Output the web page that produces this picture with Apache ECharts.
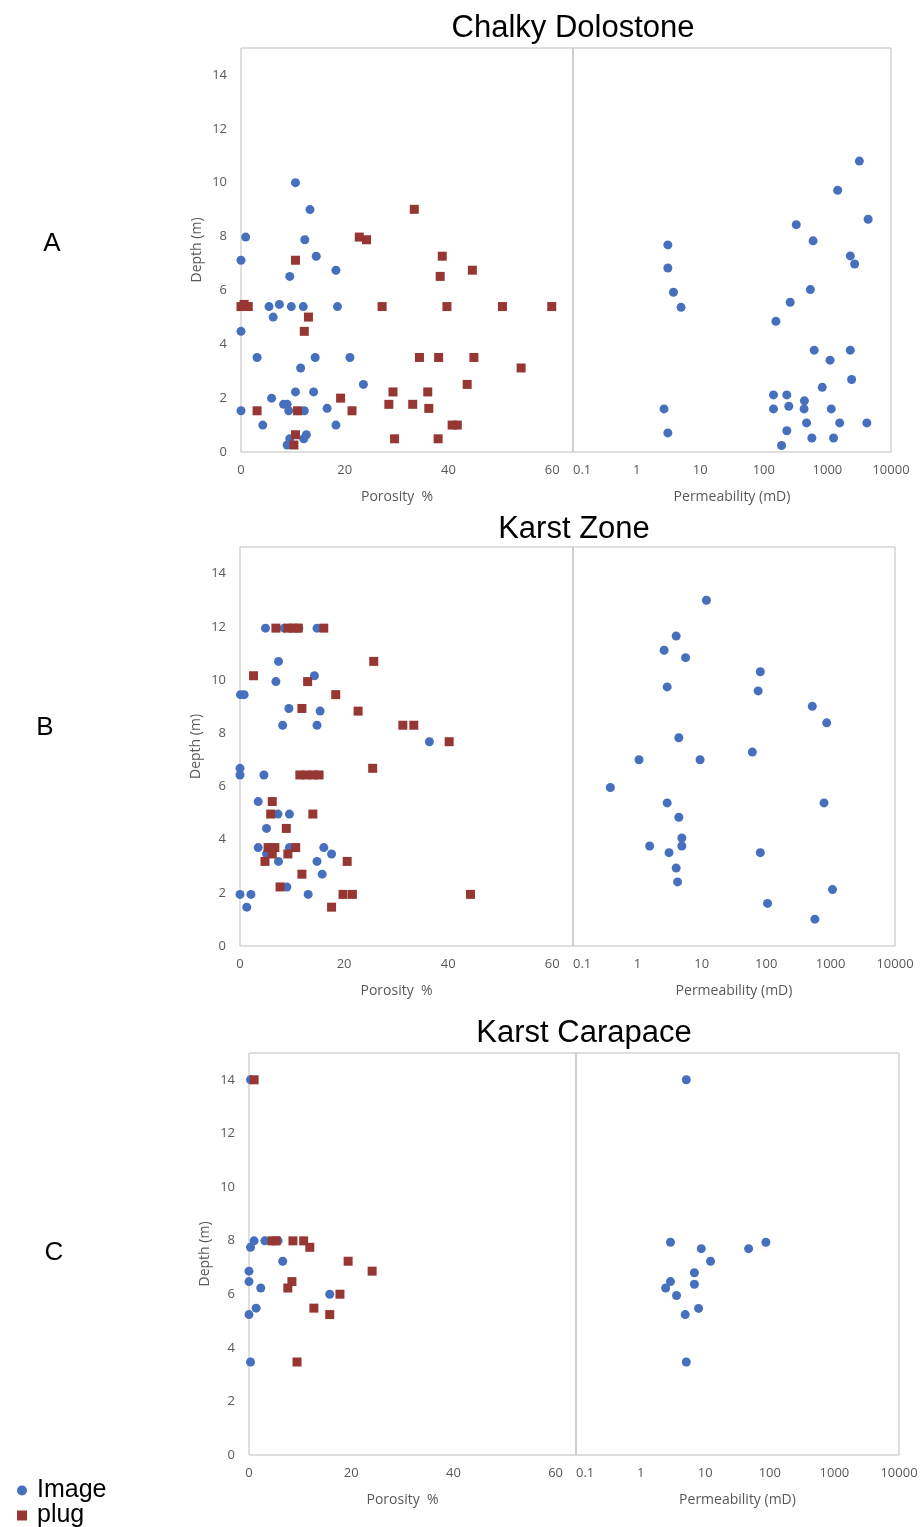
<!DOCTYPE html>
<html><head><meta charset="utf-8">
<script src="https://cdn.jsdelivr.net/npm/echarts@6/dist/echarts.min.js"></script>
<style>html,body{margin:0;padding:0;background:#fff}#c{width:921px;height:1527px}</style>
</head><body><div id="c"></div>
<script>
// ---------- data ----------
const panelTitles = ['Chalky Dolostone', 'Karst Zone', 'Karst Carapace'];
const panelLetters = ['A', 'B', 'C'];
const seriesNames = ['Image', 'plug'];
const porosityTicks = [0, 20, 40, 60];
const depthTicks = [0, 2, 4, 6, 8, 10, 12, 14];
const permTicks = [0.1, 1, 10, 100, 1000, 10000];

// [porosity %, depth m]
const A_imagePorosity = [[10.5,10.0],[13.3,9.0],[0.9,7.98],[12.3,7.88],[0,7.12],[14.5,7.27],[18.3,6.75],[9.4,6.52],[5.4,5.4],[7.4,5.48],[9.7,5.4],[12.0,5.4],[18.6,5.4],[6.2,5.01],[0,4.48],[3.1,3.51],[11.5,3.12],[14.3,3.51],[21.0,3.51],[23.6,2.51],[5.9,2.0],[10.5,2.23],[14.0,2.23],[8.2,1.77],[8.9,1.77],[0,1.53],[9.2,1.53],[12.2,1.53],[16.6,1.62],[4.2,1.0],[18.3,1.0],[8.9,0.26],[9.4,0.49],[12.1,0.49],[12.6,0.64]];
const A_plugPorosity = [[33.4,9.01],[22.8,7.98],[24.2,7.88],[10.5,7.12],[38.8,7.27],[38.4,6.52],[44.6,6.75],[0,5.4],[0.6,5.48],[1.4,5.4],[27.2,5.4],[39.7,5.4],[50.4,5.4],[59.9,5.4],[13.0,5.01],[12.2,4.48],[34.4,3.51],[38.1,3.51],[44.9,3.51],[54.0,3.12],[43.6,2.51],[3.1,1.53],[10.9,1.53],[19.2,2.0],[21.4,1.53],[29.3,2.23],[36.0,2.23],[28.5,1.77],[33.1,1.77],[36.2,1.62],[40.7,1.0],[41.7,1.0],[10.5,0.64],[10.2,0.26],[29.6,0.49],[38.0,0.49]];
// [permeability mD, depth m]
const A_imagePermeability = [[3180,10.8],[1450,9.72],[4370,8.64],[324,8.44],[596,7.84],[3.1,7.69],[2290,7.28],[2680,6.98],[3.1,6.83],[3.8,5.93],[540,6.03],[5.0,5.37],[260,5.56],[155,4.85],[620,3.78],[2290,3.78],[1100,3.41],[2400,2.69],[830,2.4],[142,2.12],[230,2.12],[435,1.9],[2.7,1.6],[142,1.6],[247,1.7],[430,1.6],[1150,1.6],[470,1.08],[1560,1.08],[4170,1.08],[3.1,0.71],[230,0.79],[570,0.52],[1250,0.52],[190,0.24]];

const B_imagePorosity = [[4.9,11.95],[8.5,11.95],[11.3,11.95],[14.8,11.95],[7.4,10.7],[14.3,10.16],[6.9,9.94],[0.1,9.45],[0.8,9.45],[9.4,8.93],[15.4,8.83],[8.2,8.3],[14.8,8.3],[36.4,7.68],[0,6.68],[0,6.43],[4.6,6.43],[3.5,5.43],[7.3,4.96],[9.5,4.96],[5.1,4.42],[3.5,3.7],[5.1,3.47],[9.5,3.7],[16.1,3.7],[17.6,3.46],[7.4,3.18],[14.8,3.18],[15.8,2.7],[9.0,2.22],[0,1.94],[2.1,1.94],[13.1,1.94],[1.3,1.46]];
const B_plugPorosity = [[6.9,11.95],[9.2,11.95],[10.2,11.95],[11.2,11.95],[16.1,11.95],[25.7,10.7],[2.6,10.16],[13.0,9.94],[18.4,9.45],[11.9,8.93],[22.7,8.83],[31.3,8.3],[33.4,8.3],[40.2,7.68],[25.5,6.68],[11.5,6.43],[12.8,6.43],[14.1,6.43],[15.2,6.43],[6.2,5.43],[5.9,4.96],[14.0,4.96],[8.9,4.42],[5.4,3.7],[6.7,3.7],[10.7,3.7],[6.2,3.46],[9.2,3.46],[4.8,3.18],[20.6,3.18],[11.9,2.7],[7.7,2.22],[19.8,1.94],[21.6,1.94],[44.3,1.94],[17.6,1.46]];
const B_imagePermeability = [[11.8,13.0],[4.0,11.65],[2.6,11.12],[5.6,10.84],[81,10.31],[2.9,9.74],[75,9.59],[520,9.01],[870,8.39],[4.4,7.83],[61,7.29],[1.06,7.0],[9.4,7.0],[0.38,5.96],[2.9,5.38],[790,5.38],[4.4,4.84],[4.9,4.06],[4.9,3.76],[1.55,3.76],[3.1,3.51],[81,3.51],[4.0,2.93],[4.2,2.41],[1070,2.12],[105,1.6],[570,1.01]];

const C_imagePorosity = [[0.3,14.0],[1.0,7.99],[0.3,7.75],[3.1,7.99],[5.7,7.99],[6.6,7.23],[0,6.86],[0,6.47],[2.3,6.23],[15.8,6.0],[1.4,5.48],[0,5.24],[0.3,3.47]];
const C_plugPorosity = [[1.0,14.0],[4.5,7.99],[5.3,7.99],[8.6,7.99],[10.7,7.99],[11.9,7.75],[19.4,7.23],[24.1,6.86],[8.4,6.47],[7.6,6.23],[17.8,6.0],[12.7,5.48],[15.8,5.24],[9.4,3.47]];
const C_imagePermeability = [[5.1,14.0],[2.9,7.94],[87,7.94],[8.7,7.7],[47,7.7],[12.1,7.23],[6.8,6.8],[2.9,6.47],[6.8,6.37],[2.44,6.23],[3.6,5.95],[7.9,5.47],[4.9,5.24],[5.1,3.47]];

// ---------- layout ----------
const panels = [
  {por: A_imagePorosity, plug: A_plugPorosity, perm: A_imagePermeability,
   porGrid: {left: 241, top: 48, width: 332, height: 404},
   permGrid: {left: 573, top: 48, width: 318, height: 404},
   title: [573, 28], letter: [52, 244]},
  {por: B_imagePorosity, plug: B_plugPorosity, perm: B_imagePermeability,
   porGrid: {left: 240, top: 547, width: 333, height: 399},
   permGrid: {left: 573, top: 547, width: 322, height: 399},
   title: [574, 529], letter: [45, 728]},
  {por: C_imagePorosity, plug: C_plugPorosity, perm: C_imagePermeability,
   porGrid: {left: 249, top: 1053, width: 327, height: 402},
   permGrid: {left: 576, top: 1053, width: 323, height: 402},
   title: [584, 1033], letter: [54, 1253]}
];

const BLUE = '#4670BE', RED = '#963734', GRAY = '#595959', BORDER = '#BFBFBF';
const tickFont = {color: GRAY, fontSize: 13, fontFamily: 'Open Sans'};
const nameFont = {color: GRAY, fontSize: 14, fontFamily: 'Open Sans'};

const grid = [], xAxis = [], yAxis = [], series = [], graphic = [];
panels.forEach((p, i) => {
  const g0 = i * 2, g1 = i * 2 + 1;
  grid.push(Object.assign({show: true, borderColor: BORDER, borderWidth: 1, containLabel: false}, p.porGrid));
  grid.push(Object.assign({show: true, borderColor: BORDER, borderWidth: 1, containLabel: false}, p.permGrid));
  xAxis.push({
    gridIndex: g0, type: 'value', min: 0, max: 64, interval: 20,
    axisLine: {show: false}, axisTick: {show: false}, splitLine: {show: false},
    axisLabel: Object.assign({margin: 12, formatter: v => porosityTicks.includes(v) ? String(v) : ''}, tickFont),
    name: 'Porosity  %', nameLocation: 'middle', nameGap: 38,
    nameTextStyle: Object.assign({padding: [0, 20, 0, 0]}, nameFont)
  });
  xAxis.push({
    gridIndex: g1, type: 'log', logBase: 10, min: 0.1, max: 10000,
    axisLine: {show: false}, axisTick: {show: false}, splitLine: {show: false},
    axisLabel: Object.assign({margin: 12, alignMinLabel: 'left',
      formatter: v => { const r = Number(Number(v).toPrecision(6)); return permTicks.includes(r) ? String(r) : ''; }}, tickFont),
    name: 'Permeability (mD)', nameLocation: 'middle', nameGap: 38,
    nameTextStyle: nameFont
  });
  yAxis.push({
    gridIndex: g0, type: 'value', min: 0, max: 15, interval: 2,
    axisLine: {show: false}, axisTick: {show: false}, splitLine: {show: false},
    axisLabel: Object.assign({margin: 14, formatter: v => depthTicks.includes(v) ? String(v) : ''}, tickFont),
    name: 'Depth (m)', nameLocation: 'middle', nameGap: 37, nameTextStyle: nameFont
  });
  yAxis.push({gridIndex: g1, type: 'value', min: 0, max: 15, show: false});
  series.push({type: 'scatter', name: seriesNames[0], xAxisIndex: g0, yAxisIndex: g0, data: p.por,
    symbol: 'circle', symbolSize: 9, itemStyle: {color: BLUE, opacity: 1}});
  series.push({type: 'scatter', name: seriesNames[1], xAxisIndex: g0, yAxisIndex: g0, data: p.plug,
    symbol: 'rect', symbolSize: 9, itemStyle: {color: RED, opacity: 1}});
  series.push({type: 'scatter', name: seriesNames[0], xAxisIndex: g1, yAxisIndex: g1, data: p.perm,
    symbol: 'circle', symbolSize: 9, itemStyle: {color: BLUE, opacity: 1}});
  graphic.push({type: 'text', x: p.title[0], y: p.title[1],
    style: {text: panelTitles[i], fontSize: 31, fontFamily: 'Liberation Sans', fill: '#000', align: 'center', verticalAlign: 'middle'}});
  graphic.push({type: 'text', x: p.letter[0], y: p.letter[1],
    style: {text: panelLetters[i], fontSize: 26, fontFamily: 'Liberation Sans', fill: '#000', align: 'center', verticalAlign: 'middle'}});
});

const legendText = {fontSize: 25, color: '#000', fontFamily: 'Liberation Sans', lineHeight: 22, padding: [0, 0, 0, 5]};
const chart = echarts.init(document.getElementById('c'), null, {renderer: 'canvas'});
chart.setOption({
  animation: false,
  backgroundColor: '#fff',
  grid, xAxis, yAxis, series, graphic,
  legend: [
    {left: 12, top: 1473, itemWidth: 10, itemHeight: 10, textStyle: legendText,
     data: [{name: seriesNames[0], icon: 'circle'}]},
    {left: 12, top: 1498, itemWidth: 10, itemHeight: 10, textStyle: legendText,
     data: [{name: seriesNames[1], icon: 'rect'}]}
  ]
});
</script></body></html>
